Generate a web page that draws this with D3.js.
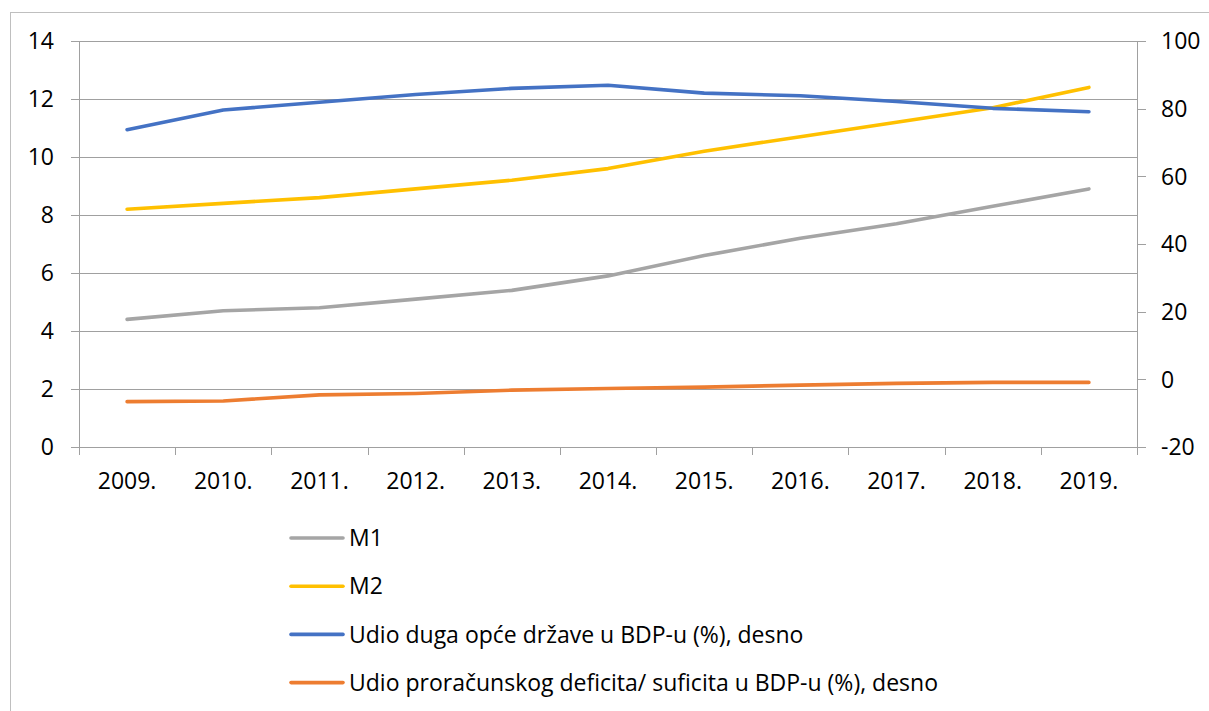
<!DOCTYPE html>
<html>
<head>
<meta charset="utf-8">
<script src="https://cdn.jsdelivr.net/npm/d3@7"></script>
<style>
  body { margin: 0; background: #fff; }
  text { font-family: "Open Sans", sans-serif; fill: #000; }
</style>
</head>
<body>
<div id="chart"></div>
<script>
// Data
const years = ["2009.", "2010.", "2011.", "2012.", "2013.", "2014.", "2015.", "2016.", "2017.", "2018.", "2019."];
const m1 = [4.4, 4.7, 4.8, 5.1, 5.4, 5.9, 6.6, 7.2, 7.7, 8.3, 8.9];
const m2 = [8.2, 8.4, 8.6, 8.9, 9.2, 9.6, 10.2, 10.7, 11.2, 11.7, 12.4];
const debt = [73.8, 79.6, 81.9, 84.2, 86.0, 86.9, 84.6, 83.8, 82.1, 80.1, 79.1];
const deficit = [-6.6, -6.4, -4.6, -4.2, -3.2, -2.7, -2.3, -1.7, -1.2, -0.9, -0.9];
const leftTicks = [0, 2, 4, 6, 8, 10, 12, 14];
const rightTicks = [-20, 0, 20, 40, 60, 80, 100];
const seriesNames = ["M1", "M2", "Udio duga opće države u BDP-u (%), desno", "Udio proračunskog deficita/ suficita u BDP-u (%), desno"];

const width = 1209, height = 711;
const plot = { left: 79, right: 1137, top: 41, bottom: 447 };
const fontSize = 23;

const svg = d3.select("#chart").append("svg")
    .attr("width", width)
    .attr("height", height);

// outer chart border
svg.append("rect")
    .attr("x", 10.5).attr("y", 12.5)
    .attr("width", 1220).attr("height", 730)
    .attr("fill", "none")
    .attr("stroke", "#bfbfbf");

const x = d3.scaleBand().domain(years).range([plot.left, plot.right]);
const yL = d3.scaleLinear().domain([0, 14]).range([plot.bottom, plot.top]);
const yR = d3.scaleLinear().domain([-20, 100]).range([plot.bottom, plot.top]);

// gridlines (left axis)
svg.append("g")
    .selectAll("line")
    .data(leftTicks)
    .join("line")
    .attr("x1", plot.left - 8).attr("x2", plot.right)
    .attr("y1", d => Math.round(yL(d)) + 0.5)
    .attr("y2", d => Math.round(yL(d)) + 0.5)
    .attr("stroke", "#a0a0a0");

// left axis line
svg.append("line")
    .attr("x1", plot.left + 0.5).attr("x2", plot.left + 0.5)
    .attr("y1", plot.top).attr("y2", plot.bottom + 8)
    .attr("stroke", "#a0a0a0");

// right axis line and ticks
svg.append("line")
    .attr("x1", plot.right + 0.5).attr("x2", plot.right + 0.5)
    .attr("y1", plot.top).attr("y2", plot.bottom + 8)
    .attr("stroke", "#a0a0a0");

svg.append("g")
    .selectAll("line")
    .data(rightTicks)
    .join("line")
    .attr("x1", plot.right).attr("x2", plot.right + 9)
    .attr("y1", d => Math.round(yR(d)) + 0.5)
    .attr("y2", d => Math.round(yR(d)) + 0.5)
    .attr("stroke", "#a0a0a0");

// x tick marks at band edges
const edges = years.map(d => x(d)).concat([plot.right]);
svg.append("g")
    .selectAll("line")
    .data(edges)
    .join("line")
    .attr("x1", d => Math.round(d) + 0.5).attr("x2", d => Math.round(d) + 0.5)
    .attr("y1", plot.bottom).attr("y2", plot.bottom + 8)
    .attr("stroke", "#a0a0a0");

// tick labels
svg.append("g")
    .selectAll("text")
    .data(leftTicks)
    .join("text")
    .attr("x", 54)
    .attr("y", d => yL(d))
    .attr("dy", "0.36em")
    .attr("text-anchor", "end")
    .attr("font-size", fontSize)
    .text(d => d);

svg.append("g")
    .selectAll("text")
    .data(rightTicks)
    .join("text")
    .attr("x", 1161)
    .attr("y", d => yR(d))
    .attr("dy", "0.36em")
    .attr("text-anchor", "start")
    .attr("font-size", fontSize)
    .text(d => d);

svg.append("g")
    .selectAll("text")
    .data(years)
    .join("text")
    .attr("x", d => x(d) + x.bandwidth() / 2)
    .attr("y", 481)
    .attr("dy", "0.36em")
    .attr("text-anchor", "middle")
    .attr("font-size", fontSize)
    .text(d => d);

// series
const series = [
    { values: m1, scale: yL, color: "#a5a5a5" },
    { values: m2, scale: yL, color: "#ffc000" },
    { values: debt, scale: yR, color: "#4472c4" },
    { values: deficit, scale: yR, color: "#ed7d31" }
];

series.forEach(s => {
    const line = d3.line()
        .x((d, i) => x(years[i]) + x.bandwidth() / 2)
        .y(d => s.scale(d));
    svg.append("path")
        .datum(s.values)
        .attr("d", line)
        .attr("fill", "none")
        .attr("stroke", s.color)
        .attr("stroke-width", 3.6)
        .attr("stroke-linecap", "round")
        .attr("stroke-linejoin", "round");
});

// legend
const legend = svg.append("g")
    .selectAll("g")
    .data(series)
    .join("g")
    .attr("transform", (d, i) => `translate(291, ${538 + i * 48.2})`);

legend.append("line")
    .attr("x1", 0).attr("x2", 52)
    .attr("stroke", d => d.color)
    .attr("stroke-width", 3.6)
    .attr("stroke-linecap", "round");

legend.append("text")
    .attr("x", 58)
    .attr("dy", "0.36em")
    .attr("font-size", fontSize)
    .text((d, i) => seriesNames[i]);
</script>
</body>
</html>
